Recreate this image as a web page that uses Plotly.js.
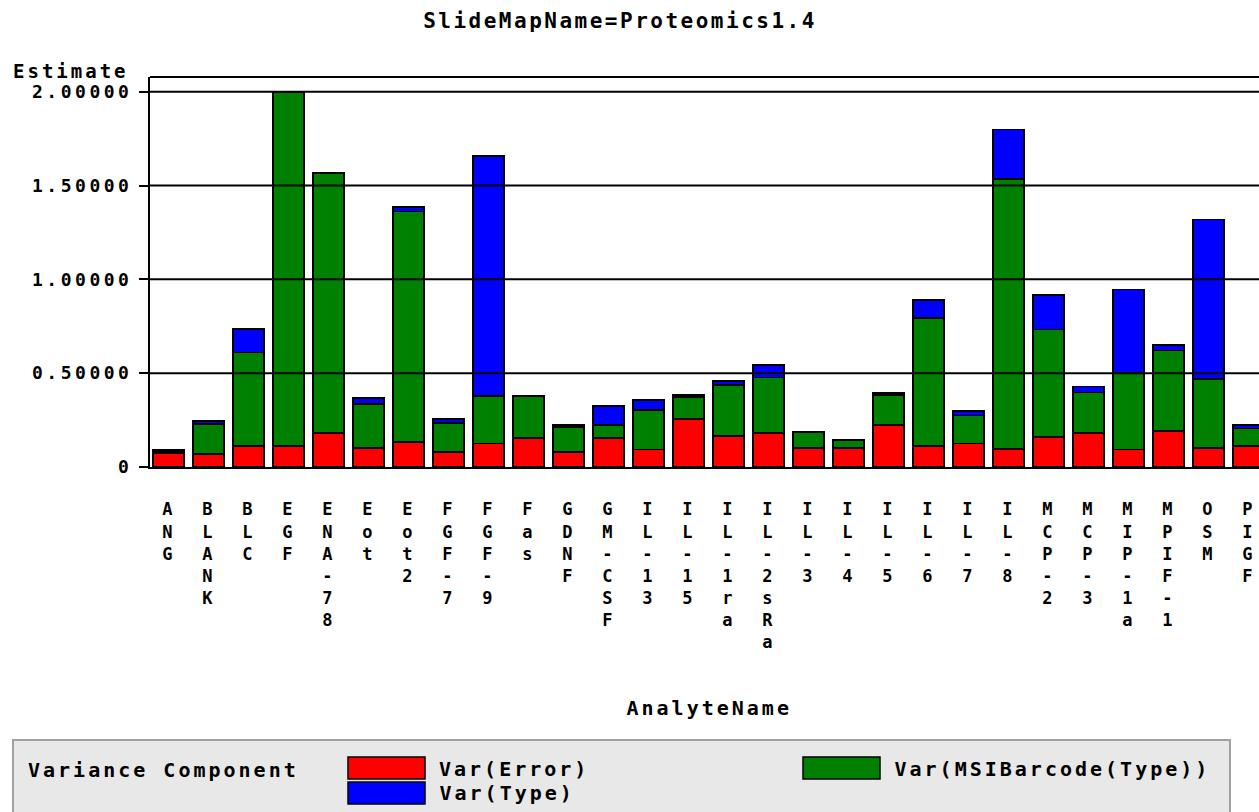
<!DOCTYPE html>
<html>
<head>
<meta charset="utf-8">
<script src="https://cdn.plot.ly/plotly-3.0.1.min.js"></script>
<style>
  html, body { margin: 0; padding: 0; background: #fff; }
  #chart { width: 1259px; height: 812px; }
  .main-svg text { letter-spacing: 2.5px; }
  .main-svg .ytick text { letter-spacing: 3.5px; }
  .main-svg .annotation-text { letter-spacing: 3px; }
</style>
</head>
<body>
<div id="chart"></div>
<script>
// ---- data ----
const categories = ['ANG','BLANK','BLC','EGF','ENA-78','Eot','Eot2','FGF-7','FGF-9','Fas','GDNF','GM-CSF','IL-13','IL-15','IL-1ra','IL-2sRa','IL-3','IL-4','IL-5','IL-6','IL-7','IL-8','MCP-2','MCP-3','MIP-1a','MPIF-1','OSM','PIGF'];
const varError = [0.075,0.071,0.112,0.112,0.183,0.103,0.132,0.082,0.125,0.153,0.080,0.153,0.093,0.254,0.164,0.183,0.103,0.103,0.224,0.112,0.125,0.094,0.162,0.183,0.093,0.194,0.103,0.112];
const varMSIBarcode = [0.012,0.160,0.498,1.888,1.382,0.233,1.230,0.153,0.254,0.224,0.132,0.071,0.211,0.121,0.273,0.294,0.082,0.041,0.160,0.681,0.149,1.442,0.571,0.214,0.408,0.427,0.365,0.093];
const varType = [0.004,0.016,0.126,0,0,0.032,0.023,0.021,1.278,0,0.010,0.103,0.053,0.010,0.022,0.065,0,0,0.010,0.096,0.023,0.263,0.183,0.032,0.445,0.030,0.851,0.019];
const seriesNames = ['Var(Error)','Var(MSIBarcode(Type))','Var(Type)'];
const yTickVals = [0, 0.5, 1.0, 1.5, 2.0];
const yTickText = ['0','0.50000','1.00000','1.50000','2.00000'];

// ---- layout geometry ----
const FW = 1259, FH = 812;
const L = 150, R = 0, T = 77, B = 345;
const PW = FW - L - R, PH = FH - T - B;
const X = px => (px - L) / PW;          // pixel -> paper x
const Y = py => (FH - B - py) / PH;     // pixel -> paper y
const LS = 1.5;                          // half of annotation letter-spacing
const XL = (px, txt) => X(px + LS * txt.length);  // left-anchored text compensation

const FONT = 'DejaVu Sans Mono';
const colors = ['#FF0000', '#008000', '#0000FF'];
const values = [varError, varMSIBarcode, varType];

const traces = values.map((v, i) => ({
  type: 'bar',
  name: seriesNames[i],
  x: categories,
  y: v,
  marker: { color: colors[i], line: { color: '#000', width: 1.8 } },
  showlegend: false,
  hoverinfo: 'x+y+name'
}));

const shapes = [];
// grid lines drawn above bars
yTickVals.filter(v => v > 0).forEach(v => {
  shapes.push({ type: 'line', xref: 'paper', yref: 'y', x0: 0, x1: 1, y0: v, y1: v,
    line: { color: '#000', width: 2 }, layer: 'above' });
});
// top frame line
shapes.push({ type: 'line', xref: 'paper', yref: 'paper', x0: 0, x1: 1, y0: 1, y1: 1,
  line: { color: '#000', width: 2 }, layer: 'above' });
// legend box
shapes.push({ type: 'rect', xref: 'paper', yref: 'paper', x0: X(13), x1: X(1230), y0: Y(740), y1: Y(816),
  fillcolor: '#E8E8E8', line: { color: '#A0A0A0', width: 2 }, layer: 'below' });
// legend swatches
const sw = [
  { x: 348, y: 757 },   // Error
  { x: 803, y: 757 },   // MSIBarcode
  { x: 348, y: 782 }    // Type
];
sw.forEach((s, i) => {
  shapes.push({ type: 'rect', xref: 'paper', yref: 'paper',
    x0: X(s.x), x1: X(s.x + 77), y0: Y(s.y), y1: Y(s.y + 22),
    fillcolor: colors[i], line: { color: '#000', width: 1.5 } });
});

const annotations = [
  { text: 'Estimate', xref: 'paper', yref: 'paper', x: XL(11, 'Estimate'), y: Y(71), xanchor: 'left', yanchor: 'middle',
    showarrow: false, font: { family: FONT, size: 19, weight: 'bold', color: '#000' } },
  { text: 'AnalyteName', xref: 'paper', yref: 'paper', x: X(709), y: Y(708), xanchor: 'center', yanchor: 'middle',
    showarrow: false, font: { family: FONT, size: 20, weight: 'bold', color: '#000' } },
  { text: 'Variance Component', xref: 'paper', yref: 'paper', x: XL(26, 'Variance Component'), y: Y(770), xanchor: 'left', yanchor: 'middle',
    showarrow: false, font: { family: FONT, size: 20, weight: 'bold', color: '#000' } }
];
const legText = [
  { x: 437, y: 769 },
  { x: 892, y: 769 },
  { x: 437, y: 793 }
];
legText.forEach((p, i) => {
  annotations.push({ text: seriesNames[i], xref: 'paper', yref: 'paper', x: XL(p.x, seriesNames[i]), y: Y(p.y),
    xanchor: 'left', yanchor: 'middle', showarrow: false,
    font: { family: FONT, size: 20, weight: 'bold', color: '#000' } });
});

const layout = {
  width: FW, height: FH,
  margin: { l: L, r: R, t: T, b: B, pad: 0 },
  paper_bgcolor: '#fff', plot_bgcolor: '#fff',
  barmode: 'stack', bargap: 0.225,
  font: { family: FONT, color: '#000' },
  title: { text: 'SlideMapName=Proteomics1.4', xref: 'paper', x: X(620), y: 1 - 21 / FH,
    xanchor: 'center', yanchor: 'middle',
    font: { family: FONT, size: 21, weight: 'bold', color: '#000' } },
  xaxis: {
    type: 'category',
    range: [-0.4625, 27.2625],
    tickvals: categories,
    ticktext: categories.map(c => c.split('').join('<br>')),
    tickfont: { family: FONT, size: 17, weight: 'bold', color: '#000' },
    tickangle: 0,
    ticks: '',
    ticklabelstandoff: 26,
    showgrid: false, zeroline: false,
    showline: true, linecolor: '#000', linewidth: 2,
    fixedrange: true
  },
  yaxis: {
    range: [0, PH / ((FH - B - 91.7) / 2)],
    tickvals: yTickVals, ticktext: yTickText,
    tickfont: { family: FONT, size: 18, weight: 'bold', color: '#000' },
    ticks: 'outside', ticklen: 9, tickwidth: 2, tickcolor: '#000',
    ticklabelstandoff: 3,
    showgrid: false, zeroline: false,
    showline: true, linecolor: '#000', linewidth: 2,
    fixedrange: true
  },
  shapes: shapes,
  annotations: annotations
};

Plotly.newPlot('chart', traces, layout, { displayModeBar: false, staticPlot: true });
</script>
</body>
</html>
